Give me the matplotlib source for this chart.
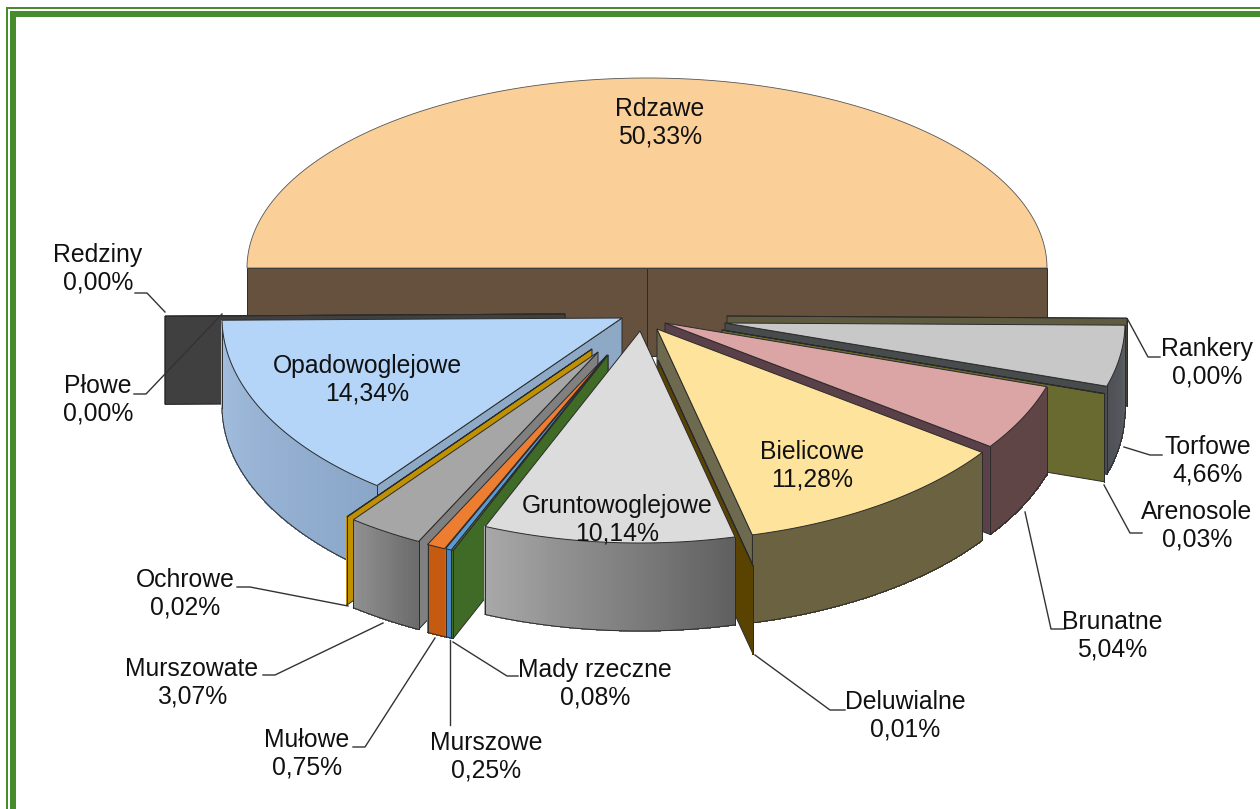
import numpy as np
import matplotlib
matplotlib.use("Agg")
import matplotlib.pyplot as plt

names = ["Rdzawe", "Rankery", "Torfowe", "Arenosole", "Brunatne", "Bielicowe", "Deluwialne",
         "Gruntowoglejowe", "Mady rzeczne", "Murszowe", "Mułowe", "Murszowate", "Ochrowe",
         "Opadowoglejowe", "Płowe", "Redziny"]
values = [50.33, 0.00, 4.66, 0.03, 5.04, 11.28, 0.01,
          10.14, 0.08, 0.25, 0.75, 3.07, 0.02,
          14.34, 0.00, 0.00]

# pie geometry in pixels
RX = 400
RY_BACK = 190
RY_FRONT = 212
H = 88
START = 180.6

# apex of every exploded slice
apex = {"Rdzawe": (647, 268), "Rankery": (727, 316), "Torfowe": (725, 323), "Arenosole": (722, 330),
        "Brunatne": (665, 323), "Bielicowe": (657, 329), "Deluwialne": (658, 360),
        "Gruntowoglejowe": (640, 331), "Mady rzeczne": (608, 355), "Murszowe": (608, 355),
        "Mułowe": (607, 355), "Murszowate": (598, 352), "Ochrowe": (592, 349),
        "Opadowoglejowe": (622, 318), "Płowe": (565, 314), "Redziny": (565, 314)}

# top colour, outer wall left and right, radial wall
colors = {"Rdzawe": ("#fbcf98", "#65513d", "#65513d", "#65513d"),
          "Rankery": ("#5f5b40", "#5f5b40", "#5f5b40", "#5f5b40"),
          "Torfowe": ("#c8c8c8", "#4d5156", "#5a5e63", "#474b4c"),
          "Arenosole": ("#686a2f", "#686a2f", "#686a2f", "#686a2f"),
          "Brunatne": ("#dca5a5", "#5f4545", "#5f4545", "#5a4048"),
          "Bielicowe": ("#fde39b", "#6a6240", "#6a6240", "#6e6a50"),
          "Deluwialne": ("#5a4300", "#5a4300", "#5a4300", "#5a4300"),
          "Gruntowoglejowe": ("#dcdcdc", "#a8a8a8", "#606060", "#808080"),
          "Mady rzeczne": ("#548235", "#3f6b26", "#3f6b26", "#3f6b26"),
          "Murszowe": ("#5b9bd5", "#4a86c5", "#4a86c5", "#4a86c5"),
          "Mułowe": ("#ed7d31", "#c55a11", "#c55a11", "#c55a11"),
          "Murszowate": ("#a6a6a6", "#919191", "#6c6c6c", "#808080"),
          "Ochrowe": ("#bf9000", "#bf9000", "#bf9000", "#bf9000"),
          "Opadowoglejowe": ("#b4d5f8", "#a4bfe0", "#8aa6c8", "#8ea9c6"),
          "Płowe": ("#404040", "#404040", "#404040", "#404040"),
          "Redziny": ("#404040", "#404040", "#404040", "#404040")}

draw_order = ["Rdzawe", "Redziny", "Płowe", "Opadowoglejowe", "Ochrowe", "Murszowate", "Mułowe",
              "Murszowe", "Mady rzeczne", "Rankery", "Torfowe", "Arenosole", "Brunatne", "Bielicowe",
              "Deluwialne", "Gruntowoglejowe"]

# label centre and leader line
labels = {"Rdzawe": (660, 123, None),
          "Redziny": (98, 269, [(135, 293), (147, 293), (165, 312)]),
          "Płowe": (98, 400, [(134, 394), (146, 394), (222, 314)]),
          "Opadowoglejowe": (367, 380, None),
          "Bielicowe": (812, 466, None),
          "Gruntowoglejowe": (617, 520, None),
          "Rankery": (1207, 363, [(1128, 320), (1148, 357), (1160, 357)]),
          "Torfowe": (1208, 461, [(1124, 447), (1150, 455), (1162, 455)]),
          "Arenosole": (1197, 526, [(1104, 485), (1130, 533), (1142, 533)]),
          "Brunatne": (1112, 636, [(1025, 512), (1051, 629), (1065, 629)]),
          "Deluwialne": (905, 716, [(755, 655), (830, 710), (845, 710)]),
          "Mady rzeczne": (595, 684, [(453, 642), (507, 676), (518, 676)]),
          "Murszowe": (486, 757, [(450, 640), (450, 725)]),
          "Mułowe": (307, 754, [(435, 638), (365, 747), (353, 747)]),
          "Murszowate": (192, 683, [(383, 623), (275, 675), (263, 675)]),
          "Ochrowe": (185, 594, [(348, 606), (250, 587), (237, 587)])}

EDGE = "#2b2b2b"


def pt(name, ang, r=1.0, z=0):
    ox, oy = apex[name]
    c, s = np.cos(np.radians(ang)), np.sin(np.radians(ang))
    if name == "Rdzawe":
        s = max(s, 0)
    ry = RY_BACK if s > 0 else RY_FRONT
    return ox + RX * r * c, oy - ry * r * s + z


def quad(ax, pts, col, edge=None, lw=0.7, aa=True):
    xs, ys = zip(*pts)
    ax.fill(xs, ys, facecolor=col, edgecolor=edge if edge else col, lw=lw if edge else 0.4, antialiased=aa)


def line(ax, pts):
    ax.plot(*zip(*pts), color=EDGE, lw=0.7, zorder=1)


def mix(c1, c2, t):
    a = np.array(matplotlib.colors.to_rgb(c1))
    b = np.array(matplotlib.colors.to_rgb(c2))
    return a + (b - a) * t


def radial_wall(ax, name, ang, col):
    quad(ax, [pt(name, ang, 0), pt(name, ang), pt(name, ang, 1, H), pt(name, ang, 0, H)], col, EDGE)


def slice3d(ax, name, a1, a2):
    top, w1, w2, rad = colors[name]
    if a2 > -90 and a2 < 0:
        radial_wall(ax, name, a2, rad)
    if a1 < -90:
        radial_wall(ax, name, a1, rad)
    n = max(2, int(abs(a1 - a2)) * 2)
    aa = np.linspace(a2, a1, n)
    for i in range(n - 1):
        t = i / max(1, n - 2)
        quad(ax, [pt(name, aa[i]), pt(name, aa[i + 1]), pt(name, aa[i + 1], 1, H), pt(name, aa[i], 1, H)],
             mix(w1, w2, t), aa=False)
    line(ax, [pt(name, a, 1, H) for a in aa])
    line(ax, [pt(name, a1), pt(name, a1, 1, H)])
    line(ax, [pt(name, a2), pt(name, a2, 1, H)])
    quad(ax, [pt(name, 0, 0)] + [pt(name, a) for a in aa], top, EDGE)


def rdzawe(ax, a1, a2):
    top, w1, w2, rad = colors["Rdzawe"]
    quad(ax, [pt("Rdzawe", a1), pt("Rdzawe", 0, 0), pt("Rdzawe", 0, 0, H), pt("Rdzawe", a1, 1, H)], rad, EDGE)
    quad(ax, [pt("Rdzawe", 0, 0), pt("Rdzawe", a2), pt("Rdzawe", a2, 1, H), pt("Rdzawe", 0, 0, H)], rad, EDGE)
    aa = np.linspace(a2, a1, 200)
    quad(ax, [pt("Rdzawe", 0, 0)] + [pt("Rdzawe", a) for a in aa], top, "#555555", 0.6)


fig = plt.figure(figsize=(12.6, 8.09), dpi=100)
ax = fig.add_axes([0, 0, 1, 1])
ax.set_xlim(0, 1260)
ax.set_ylim(809, 0)
ax.axis("off")

# green double frame, top and left only
ax.fill([6, 1260, 1260, 8, 8, 6], [7, 7, 9, 9, 809, 809], color="#468b2c", lw=0)
ax.fill([10, 1260, 1260, 16, 16, 10], [11, 11, 17, 17, 809, 809], color="#468b2c", lw=0)

ends = START - np.cumsum(values) * 3.6
starts = np.concatenate([[START], ends[:-1]])
spans = {n: (s, e) for n, s, e in zip(names, starts, ends)}

for name in draw_order:
    a1, a2 = spans[name]
    if name == "Rdzawe":
        rdzawe(ax, a1, a2)
    else:
        slice3d(ax, name, a1, a2)

for name, val in zip(names, values):
    x, y, leader = labels[name]
    if leader:
        ax.plot(*zip(*leader), color="#333333", lw=1, zorder=2)
    txt = name + "\n" + f"{val:.2f}".replace(".", ",") + "%"
    ax.text(x, y, txt, ha="center", va="center", fontsize=17.8, color="#111111",
            family="Liberation Sans", linespacing=1.17)

fig.savefig("out.png", dpi=100)
